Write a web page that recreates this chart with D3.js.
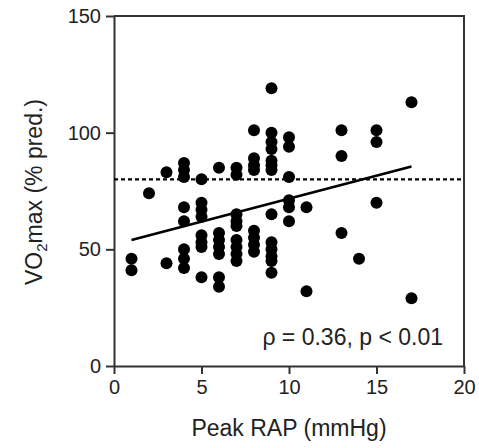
<!DOCTYPE html>
<html lang="en">
<head>
  <meta charset="UTF-8">
  <title>VO2max vs Peak RAP</title>
  <script src="https://d3js.org/d3.v7.min.js"></script>
  <style>
    body {
      margin: 0;
      padding: 0;
      background: #fff;
      font-family: Arial, 'Liberation Sans', sans-serif;
    }
    .axis text { font-family: Arial, 'Liberation Sans', sans-serif; fill: #222; }
  </style>
</head>
<body>
  <div id="chart"></div>

  <script>
    // Peak RAP (mmHg) columns and the VO2max (% pred.) values read in each
    const rapValues = [1, 2, 3, 4, 5, 6, 7, 8, 9, 10, 11, 13, 14, 15, 17];
    const vo2Values = [
      [46, 41],
      [74],
      [83, 44],
      [87, 84, 81, 68, 62, 50, 46, 42],
      [80, 70, 67, 64, 56, 53, 51, 38],
      [85, 57, 54, 51, 48, 38, 34],
      [85, 82, 65, 62, 60, 54, 51, 48, 45],
      [101, 89, 86, 84, 58, 55, 52, 49],
      [119, 100, 96, 93, 88, 86, 84, 65, 53, 50, 47, 45, 40],
      [98, 94, 81, 71, 68, 62],
      [68, 32],
      [101, 90, 57],
      [46],
      [101, 96, 70],
      [113, 29]
    ];

    // regression line end points and reference (dotted) level
    const fitX = [1, 17];
    const fitY = [54, 85.5];
    const refLevel = 80;

    const xTicks = [0, 5, 10, 15, 20];
    const yTicks = [0, 50, 100, 150];
    const statLabel = "\u03c1 = 0.36, p < 0.01";

    const width = 479, height = 448;
    const margin = { top: 16, right: 15, bottom: 82, left: 114 };

    const svg = d3.select("#chart").append("svg")
      .attr("width", width)
      .attr("height", height);

    const x = d3.scaleLinear().domain([0, 20]).range([margin.left, width - margin.right]);
    const y = d3.scaleLinear().domain([0, 150]).range([height - margin.bottom, margin.top]);

    const points = [];
    rapValues.forEach((r, i) => {
      vo2Values[i].forEach(v => points.push({ rap: r, vo2: v }));
    });

    // frame (top and right)
    svg.append("path")
      .attr("d", `M${x(0)},${y(150)}H${x(20)}V${y(0)}`)
      .attr("fill", "none")
      .attr("stroke", "#333")
      .attr("stroke-width", 2);

    // axes
    const yAxis = svg.append("g")
      .attr("class", "axis")
      .attr("transform", "translate(" + x(0) + ",0)")
      .call(d3.axisLeft(y).tickValues(yTicks).tickSize(8).tickSizeOuter(0).tickPadding(5));

    const xAxis = svg.append("g")
      .attr("class", "axis")
      .attr("transform", "translate(0," + y(0) + ")")
      .call(d3.axisBottom(x).tickValues(xTicks).tickSize(8).tickSizeOuter(0).tickPadding(6));

    [yAxis, xAxis].forEach(g => {
      g.select(".domain").attr("stroke", "#333").attr("stroke-width", 2);
      g.selectAll(".tick line").attr("stroke", "#333").attr("stroke-width", 2);
      g.selectAll(".tick text").attr("font-size", 20);
    });

    // dotted reference line
    svg.append("line")
      .attr("x1", x(0))
      .attr("x2", x(20))
      .attr("y1", y(refLevel))
      .attr("y2", y(refLevel))
      .attr("stroke", "#000")
      .attr("stroke-width", 2.4)
      .attr("stroke-dasharray", "4,3");

    // regression line
    svg.append("line")
      .attr("x1", x(fitX[0]))
      .attr("x2", x(fitX[1]))
      .attr("y1", y(fitY[0]))
      .attr("y2", y(fitY[1]))
      .attr("stroke", "#000")
      .attr("stroke-width", 2.6);

    svg.append("g")
      .selectAll("circle")
      .data(points)
      .enter().append("circle")
      .attr("cx", d => x(d.rap))
      .attr("cy", d => y(d.vo2))
      .attr("r", 6)
      .attr("fill", "#000");

    // annotation
    svg.append("text")
      .attr("x", 443)
      .attr("y", 345)
      .attr("text-anchor", "end")
      .attr("font-size", 23)
      .attr("fill", "#222")
      .text(statLabel);

    // axis titles
    svg.append("text")
      .attr("x", x(10))
      .attr("y", 436)
      .attr("text-anchor", "middle")
      .attr("font-size", 23)
      .attr("fill", "#222")
      .text("Peak RAP (mmHg)");

    const yTitle = svg.append("text")
      .attr("transform", "translate(42,192) rotate(-90)")
      .attr("text-anchor", "middle")
      .attr("font-size", 23)
      .attr("fill", "#222");
    yTitle.append("tspan").text("VO");
    yTitle.append("tspan").attr("font-size", 15).attr("dy", 5).text("2");
    yTitle.append("tspan").attr("dy", -5).text("max (% pred.)");
  </script>
</body>
</html>
